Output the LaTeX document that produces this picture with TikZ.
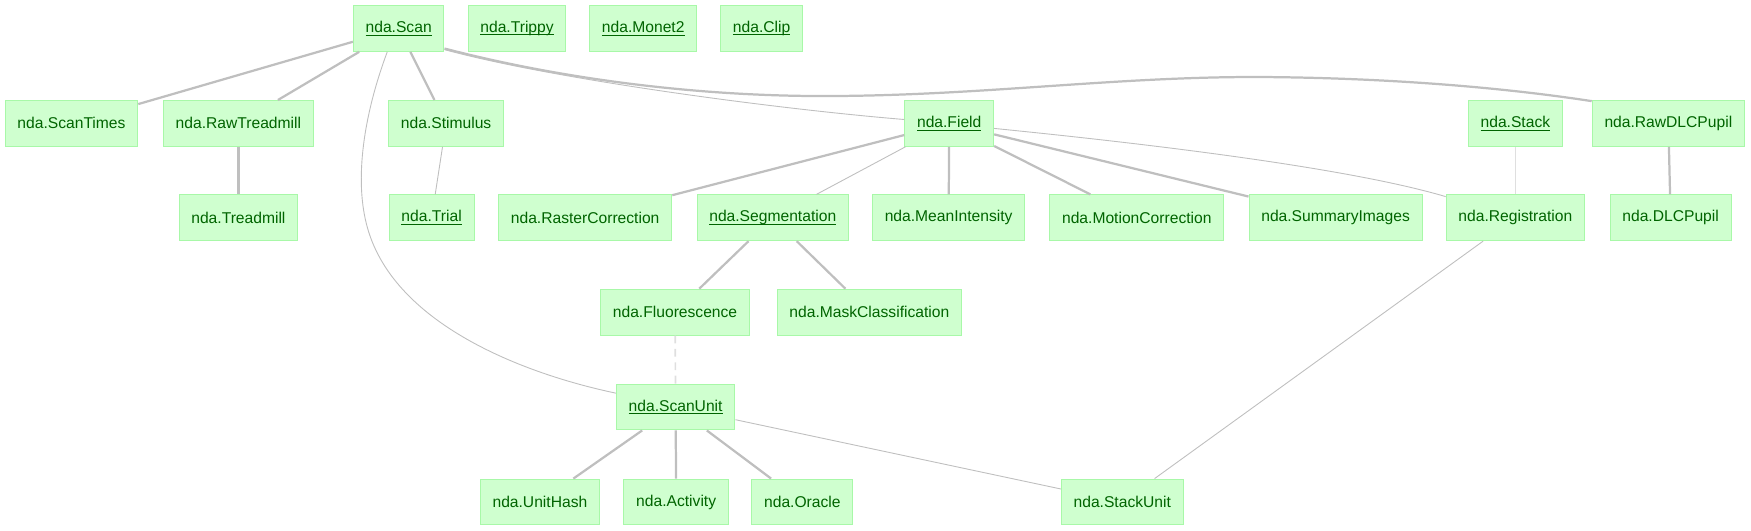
\documentclass[tikz,border=0pt]{standalone}
\usepackage{fontspec}
\setmainfont{Liberation Sans}
\usetikzlibrary{calc}
\definecolor{nodefill}{HTML}{CFFFCF}
\definecolor{nodeborder}{HTML}{A8F8A8}
\definecolor{nodetext}{HTML}{006400}
\definecolor{edgegray}{HTML}{BFBFBF}
\definecolor{faintgray}{HTML}{DFDFDF}
\newcommand{\ulname}[1]{\setbox0=\hbox{#1}\leavevmode\rlap{\rule[-2.6pt]{\wd0}{0.9pt}}\box0}
\tikzset{
  tbl/.style={draw=nodeborder, fill=nodefill, text=nodetext, font=\fontsize{14}{16}\selectfont,
    inner xsep=11pt, inner ysep=0pt, minimum height=41pt, line width=0.9pt},
  strong/.style={draw=edgegray, line width=2pt},
  weak/.style={draw=edgegray, line width=0.8pt},
  faint/.style={draw=faintgray, line width=1.5pt},
  dashedge/.style={draw=faintgray, line width=1.5pt, dash pattern=on 7pt off 5pt},
}
\begin{document}
\begin{tikzpicture}[x=1pt,y=-1pt]
\useasboundingbox (0,0) rectangle (1568,475);
% row 0
\node[tbl] (scan)   at (357,25.5) {\ulname{nda.Scan}};
\node[tbl] (trippy) at (463,25.5) {\ulname{nda.Trippy}};
\node[tbl] (monet)  at (576,25.5) {\ulname{nda.Monet2}};
\node[tbl] (clip)   at (682,25.5) {\ulname{nda.Clip}};
% row 1
\node[tbl] (scantimes) at (64,110.5)   {nda.ScanTimes};
\node[tbl] (rawtread)  at (213.5,110.5){nda.RawTreadmill};
\node[tbl] (stimulus)  at (399.5,110.5){nda.Stimulus};
\node[tbl] (field)     at (850,110.5)  {\ulname{nda.Field}};
\node[tbl] (stack)     at (1357,110.5) {\ulname{nda.Stack}};
\node[tbl] (rawdlc)    at (1494,110.5) {nda.RawDLCPupil};
% row 2
\node[tbl] (treadmill) at (213.5,195) {nda.Treadmill};
\node[tbl] (trial)     at (386.5,195) {\ulname{nda.Trial}};
\node[tbl] (raster)    at (524,195)   {nda.RasterCorrection};
\node[tbl] (seg)       at (692,195)   {\ulname{nda.Segmentation}};
\node[tbl] (mean)      at (849.5,195) {nda.MeanIntensity};
\node[tbl] (motion)    at (1018,195)  {nda.MotionCorrection};
\node[tbl] (summary)   at (1196,195)  {nda.SummaryImages};
\node[tbl] (reg)       at (1357,195)  {nda.Registration};
\node[tbl] (dlc)       at (1496,195)  {nda.DLCPupil};
% row 3
\node[tbl] (fluor) at (604.5,279.5) {nda.Fluorescence};
\node[tbl] (mask)  at (778.5,279.5) {nda.MaskClassification};
% row 4
\node[tbl] (scanunit) at (605,364.5) {\ulname{nda.ScanUnit}};
% row 5
\node[tbl] (unithash)  at (483.5,449.5) {nda.UnitHash};
\node[tbl] (activity)  at (605.5,449.5) {nda.Activity};
\node[tbl] (oracle)    at (718.5,449.5) {nda.Oracle};
\node[tbl] (stackunit) at (1005,449.5)  {nda.StackUnit};

% edges
\draw[strong] (scan) -- (scantimes);
\draw[strong] (scan) -- (rawtread);
\draw[strong] (scan) -- (stimulus);
\draw[weak] ($(scan.south west)+(30.8,0)$) .. controls (325,105) and (318,160) .. (328,200)
   .. controls (350,290) and (470,335) .. ($(scanunit.north west)+(0,8.5)$);
\draw[weak] ($(scan.south east)+(0,-2)$) .. controls (500,72) and (700,98) .. ($(field.west)+(0,-3.5)$);
\draw[strong] ($(scan.south east)+(0,-3)$) .. controls (500,70) and (620,86) .. (737,86)
   .. controls (880,86) and (1000,68) .. (1134,69)
   .. controls (1250,70) and (1350,79) .. ($(rawdlc.north west)+(0,1)$);
\draw[strong] (rawtread) -- (treadmill);
\draw[weak] (stimulus) -- (trial);
\draw[strong] (field) -- (raster);
\draw[weak] (field) -- (seg);
\draw[strong] (field) -- (mean);
\draw[strong] (field) -- (motion);
\draw[strong] (field) -- (summary);
\draw[weak] ($(field.east)+(0,4.5)$) .. controls (1000,126) and (1200,148) .. ($(reg.north west)+(0,2)$);
\draw[faint] (stack) -- (reg);
\draw[strong] (rawdlc) -- (dlc);
\draw[strong] (seg) -- (fluor);
\draw[strong] (seg) -- (mask);
\draw[dashedge] (fluor) -- (scanunit);
\draw[strong] (scanunit) -- (unithash);
\draw[strong] (scanunit) -- (activity);
\draw[strong] (scanunit) -- (oracle);
\draw[weak] (scanunit) -- (stackunit);
\draw[weak] (reg) -- (stackunit);
\end{tikzpicture}
\end{document}
